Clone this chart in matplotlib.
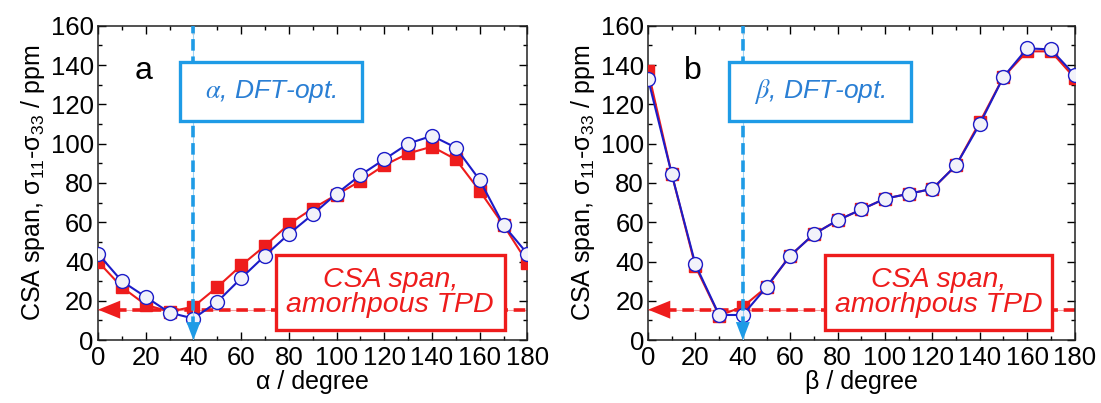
import matplotlib.pyplot as plt
from matplotlib.ticker import MultipleLocator
from matplotlib.patches import Rectangle

plt.rcParams['font.family'] = ['Liberation Sans', 'DejaVu Sans']
plt.rcParams['mathtext.fontset'] = 'custom'
plt.rcParams['mathtext.rm'] = 'Liberation Sans'
plt.rcParams['mathtext.it'] = 'Liberation Sans:italic'

# angle scan, degrees
angles = [0, 10, 20, 30, 40, 50, 60, 70, 80, 90, 100, 110, 120, 130, 140, 150, 160, 170, 180]

# CSA span (ppm) while rotating alpha
alpha_red = [40, 27, 18, 14.5, 17, 27, 38, 48, 59, 67, 74, 81, 89, 95, 98.5, 92, 76, 58.5, 39.5]
alpha_blue = [44, 30, 22, 14, 11, 19.5, 31.5, 43, 54, 64, 74.5, 84, 92, 100, 104, 98, 81.5, 58.5, 44]

# CSA span (ppm) while rotating beta
beta_red = [137, 84.5, 37.5, 12.5, 17, 27, 43, 54, 61, 66.5, 72, 74.5, 77, 89, 111, 134, 147, 147, 133.5]
beta_blue = [133, 84.5, 38.5, 12.8, 12.8, 27, 43, 54, 61, 66.5, 72, 74.5, 77, 89, 110, 134, 148.5, 148, 135]

dft_opt = 40        # DFT-optimised angle
amorph_span = 15.5  # CSA span of amorphous TPD

RED = '#ee1c1c'
BLUE = '#1c1cc8'
SKY = '#1e9be6'

fig = plt.figure(figsize=(11.01, 4.03), dpi=100)
ax_a = fig.add_axes([0.089, 0.156, 0.390, 0.780])
ax_b = fig.add_axes([0.5886, 0.156, 0.3874, 0.780])


def draw_panel(ax, red, blue, letter, sym):
    ax.plot(angles, red, '-s', color=RED, lw=1.5, ms=8.5, mec=RED, mfc=RED, zorder=3)
    ax.plot(angles, blue, '-o', color=BLUE, lw=1.5, ms=10, mec=BLUE, mew=1.0,
            mfc='#f2f2fa', zorder=4)

    # amorphous reference level with arrow to the axis
    ax.axhline(amorph_span, color='#f4a0a0', lw=0.8, zorder=2)
    ax.plot([7, 180], [amorph_span, amorph_span], color=RED, lw=2.6,
            dashes=(3.2, 1.6), zorder=2, clip_on=False)
    ax.annotate('', xy=(0, amorph_span), xytext=(10, amorph_span),
                arrowprops=dict(arrowstyle='-|>,head_length=1.6,head_width=0.65',
                                color=RED, lw=0, shrinkA=0, shrinkB=0), zorder=5)

    # DFT optimised angle
    ax.axvline(dft_opt, color='#9fd3f5', lw=0.8, zorder=5)
    ax.plot([dft_opt, dft_opt], [6, 160], color=SKY, lw=2.6,
            dashes=(3.2, 1.6), zorder=5)
    ax.annotate('', xy=(dft_opt, 0), xytext=(dft_opt, 8),
                arrowprops=dict(arrowstyle='-|>,head_length=1.3,head_width=0.5',
                                color=SKY, lw=0, shrinkA=0, shrinkB=0), zorder=6)

    ax.add_patch(Rectangle((34.3, 111.5), 76.5, 30, facecolor='white',
                           edgecolor=SKY, lw=2.4, zorder=6))
    ax.text(72.5, 126.5, r'$\%s$, DFT-opt.' % sym, color='#2a7fd4', fontsize=19,
            style='italic', ha='center', va='center', zorder=7,
            math_fontfamily='stix')

    ax.add_patch(Rectangle((74.5, 5), 96, 38.5, facecolor='white',
                           edgecolor=RED, lw=2.4, zorder=6))
    ax.text(122.5, 24, 'CSA span,\namorhpous TPD', color=RED, fontsize=20.5,
            style='italic', ha='center', va='center', multialignment='center',
            linespacing=0.95, zorder=7)

    ax.text(19, 137, letter, fontsize=23, ha='center', va='center')

    ax.set_xlim(0, 180)
    ax.set_ylim(0, 160)
    ax.xaxis.set_major_locator(MultipleLocator(20))
    ax.xaxis.set_minor_locator(MultipleLocator(10))
    ax.yaxis.set_major_locator(MultipleLocator(20))
    ax.yaxis.set_minor_locator(MultipleLocator(10))
    ax.tick_params(which='both', direction='in', top=True, right=True,
                   labelsize=18.5, width=1.0)
    ax.tick_params(axis='x', pad=4)
    ax.tick_params(axis='y', pad=3)
    ax.tick_params(which='major', length=6)
    ax.tick_params(which='minor', length=3)
    for s in ax.spines.values():
        s.set_linewidth(1.1)
        s.set_color('#222222')
    ax.set_ylabel(r'CSA span, σ$_{11}$-σ$_{33}$ / ppm', fontsize=18, labelpad=3)
    ax.set_xlabel('%s / degree' % {'alpha': 'α', 'beta': 'β'}[sym], fontsize=18,
                  labelpad=0)


draw_panel(ax_a, alpha_red, alpha_blue, 'a', 'alpha')
draw_panel(ax_b, beta_red, beta_blue, 'b', 'beta')

fig.savefig('out.png', dpi=100)
